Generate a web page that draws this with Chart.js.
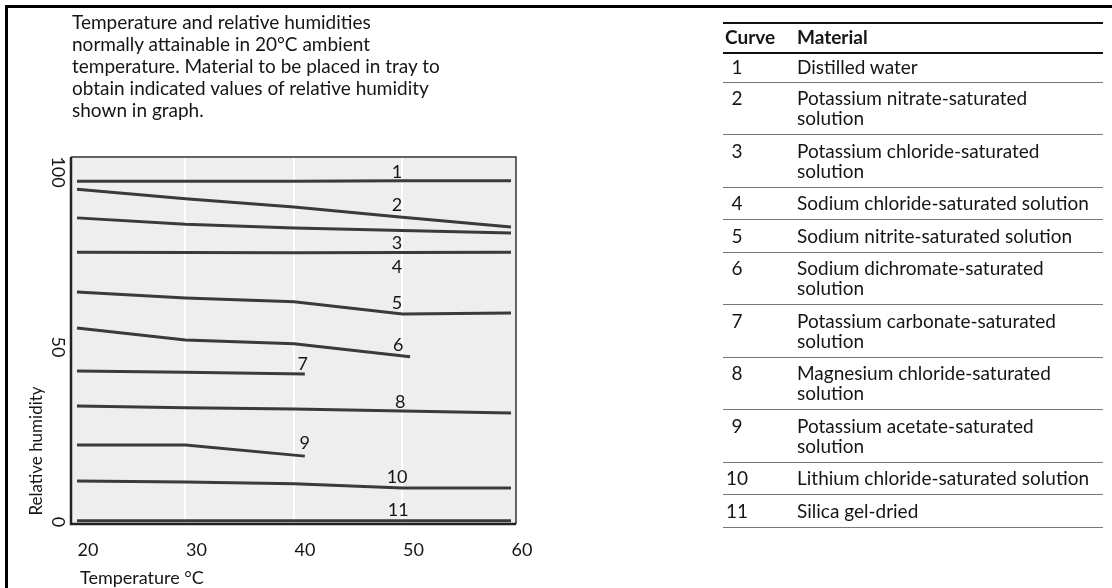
<!DOCTYPE html>
<html><head><meta charset="utf-8">
<script src="https://cdn.jsdelivr.net/npm/chart.js@4.4.1/dist/chart.umd.min.js"></script>
<style>
html,body{margin:0;padding:0;background:#fff;}
#wrap{position:relative;width:1112px;height:588px;overflow:hidden;font-family:Lato,sans-serif;color:#151515;}
#c{position:absolute;left:0;top:0;}
.bt{position:absolute;left:5px;top:5px;width:1107px;height:3px;background:#000;}
.bl{position:absolute;left:5px;top:5px;width:3px;height:583px;background:#000;}
#title{position:absolute;left:72px;top:11px;font-size:19px;line-height:22px;white-space:pre;}
#tbl{position:absolute;left:723px;top:22px;width:380px;border-collapse:collapse;font-size:19px;line-height:20px;}
#tbl th{font-weight:bold;text-align:left;padding:3px 0 5px 0;border-top:2px solid #111;border-bottom:2px solid #111;}
#tbl th.n{padding-left:2px;width:72px;}
#tbl td{padding:5.5px 0 6px 0;border-bottom:1px solid #777;vertical-align:top;white-space:nowrap;}
#tbl tr.first td{padding:3px 0 4.5px 0;}
#tbl td.n{width:74px;}
#tbl td.n span{display:inline-block;width:28px;text-align:center;}
</style></head>
<body><div id="wrap">
<canvas id="c" width="1112" height="588"></canvas>
<div class="bt"></div><div class="bl"></div>
<div id="title"></div>
<table id="tbl"><thead><tr><th class="n">Curve</th><th>Material</th></tr></thead><tbody id="tb"></tbody></table>
</div>
<script>
const titleLines = [
  'Temperature and relative humidities',
  'normally attainable in 20\u00B0C ambient',
  'temperature. Material to be placed in tray to',
  'obtain indicated values of relative humidity',
  'shown in graph.'
];
const curveIds = ['1','2','3','4','5','6','7','8','9','10','11'];
const materialLines = [
  ['Distilled water'],
  ['Potassium nitrate-saturated','solution'],
  ['Potassium chloride-saturated','solution'],
  ['Sodium chloride-saturated solution'],
  ['Sodium nitrite-saturated solution'],
  ['Sodium dichromate-saturated','solution'],
  ['Potassium carbonate-saturated','solution'],
  ['Magnesium chloride-saturated','solution'],
  ['Potassium acetate-saturated','solution'],
  ['Lithium chloride-saturated solution'],
  ['Silica gel-dried']
];
// temperatures (deg C) at which each curve is read
const temps     = [20, 30, 40, 50, 60];
const tempsTo50 = [20, 30, 40, 50.7];
const tempsTo40 = [20, 30, 41];
// relative humidity (%) for each curve
const rh1  = [97.4, 97.4, 97.4, 97.5, 97.5];
const rh2  = [95.1, 92.4, 90.0, 87.1, 84.3];
const rh3  = [86.9, 85.1, 84.0, 83.3, 82.6];
const rh4  = [77.1, 77.0, 76.9, 77.0, 77.1];
const rh5  = [65.7, 64.0, 62.9, 59.4, 59.7];
const rh6  = [55.4, 52.0, 50.9, 47.2];
const rh7  = [43.1, 42.8, 42.3];
const rh8  = [33.1, 32.6, 32.3, 31.7, 31.1];
const rh9  = [22.0, 22.0, 18.8];
const rh10 = [11.7, 11.4, 10.9, 9.7, 9.7];
const rh11 = [0.3, 0.3, 0.3, 0.3, 0.3];
const xTicks = [20, 30, 40, 50, 60];
const yTicks = [0, 50, 100];
const xTitle = 'Temperature \u00B0C';
const yTitle = 'Relative humidity';
// where each curve number is written (data coordinates)
const curveLabelX = [49.5, 49.5, 49.5, 49.5, 49.5, 49.6, 40.8, 49.8, 41.0, 49.5, 49.6];
const curveLabelY = [100.0, 90.6, 79.7, 72.9, 62.6, 50.6, 45.1, 34.3, 22.6, 12.9, 3.4];

document.getElementById('title').textContent = titleLines.join('\n');
const tb = document.getElementById('tb');
curveIds.forEach((id, i) => {
  const tr = document.createElement('tr');
  if (i === 0) tr.className = 'first';
  const t1 = document.createElement('td'); t1.className = 'n';
  const sp = document.createElement('span'); sp.textContent = id; t1.appendChild(sp);
  const t2 = document.createElement('td');
  materialLines[i].forEach((ln, k) => {
    if (k) t2.appendChild(document.createElement('br'));
    t2.appendChild(document.createTextNode(ln));
  });
  tr.appendChild(t1); tr.appendChild(t2); tb.appendChild(tr);
});

const series = [rh1, rh2, rh3, rh4, rh5, rh6, rh7, rh8, rh9, rh10, rh11];
const seriesT = [temps, temps, temps, temps, temps, tempsTo50, tempsTo40, temps, tempsTo40, temps, temps];
const datasets = series.map((vals, i) => ({
  label: curveIds[i],
  data: vals.map((v, j) => ({x: seriesT[i][j], y: v})),
  borderColor: '#3a3a3a', borderWidth: 3, pointRadius: 0, tension: 0, fill: false
}));

const FONT = 'Lato, sans-serif';
const INK = '#151515';
const deco = {
  id: 'deco',
  beforeDraw(chart) {
    const {ctx, chartArea: a} = chart;
    ctx.save();
    ctx.fillStyle = '#eeeeee';
    ctx.fillRect(a.left, a.top, a.right - a.left, a.bottom - a.top);
    ctx.restore();
  },
  afterDraw(chart) {
    const {ctx, chartArea: a} = chart;
    const xs = chart.scales.x, ys = chart.scales.y;
    ctx.save();
    // frame
    ctx.strokeStyle = '#333'; ctx.lineWidth = 1.5;
    ctx.beginPath(); ctx.moveTo(a.left, a.top); ctx.lineTo(a.right, a.top); ctx.lineTo(a.right, a.bottom); ctx.stroke();
    ctx.strokeStyle = '#222'; ctx.lineWidth = 2.5;
    ctx.beginPath(); ctx.moveTo(a.left, a.top); ctx.lineTo(a.left, a.bottom); ctx.lineTo(a.right, a.bottom); ctx.stroke();
    ctx.fillStyle = INK;
    // y tick labels (rotated clockwise)
    ctx.font = '18px ' + FONT; ctx.textAlign = 'center'; ctx.textBaseline = 'middle';
    yTicks.forEach(v => {
      ctx.save(); ctx.translate(a.left - 13, ys.getPixelForValue(v)); ctx.rotate(Math.PI / 2);
      ctx.fillText(String(v), 0, 0); ctx.restore();
    });
    // y title
    ctx.save(); ctx.font = '17px ' + FONT; ctx.translate(37, 451); ctx.rotate(-Math.PI / 2);
    ctx.fillText(yTitle, 0, 0); ctx.restore();
    // x title
    ctx.font = '18px ' + FONT; ctx.textAlign = 'left';
    ctx.fillText(xTitle, 80, 578);
    // curve numbers
    ctx.font = '18px ' + FONT; ctx.textAlign = 'center';
    curveIds.forEach((id, i) => {
      ctx.fillText(id, xs.getPixelForValue(curveLabelX[i]), ys.getPixelForValue(curveLabelY[i]));
    });
    ctx.restore();
  }
};

new Chart(document.getElementById('c'), {
  type: 'line',
  data: {datasets},
  plugins: [deco],
  options: {
    responsive: false, animation: false,
    layout: {padding: {top: 157, right: 596, left: 0, bottom: 0}},
    plugins: {legend: {display: false}, tooltip: {enabled: false}},
    scales: {
      x: {
        type: 'linear', min: 19.45, max: 60.46,
        afterBuildTicks: s => { s.ticks = xTicks.map(v => ({value: v})); },
        afterFit: s => { s.height = 64; },
        grid: {drawTicks: false, lineWidth: 2,
          color: c => (c.tick && [30, 40, 50].includes(c.tick.value)) ? 'rgba(255,255,255,0.95)' : 'rgba(0,0,0,0)'},
        border: {display: false},
        ticks: {padding: 15, labelOffset: 11, autoSkip: false, maxRotation: 0,
          font: {family: FONT, size: 18}, color: INK}
      },
      y: {
        type: 'linear', min: -0.6, max: 104.3,
        afterBuildTicks: s => { s.ticks = yTicks.map(v => ({value: v})); },
        afterFit: s => { s.width = 71; },
        grid: {display: false}, border: {display: false}, ticks: {display: false}
      }
    }
  }
});
</script>
</body></html>
